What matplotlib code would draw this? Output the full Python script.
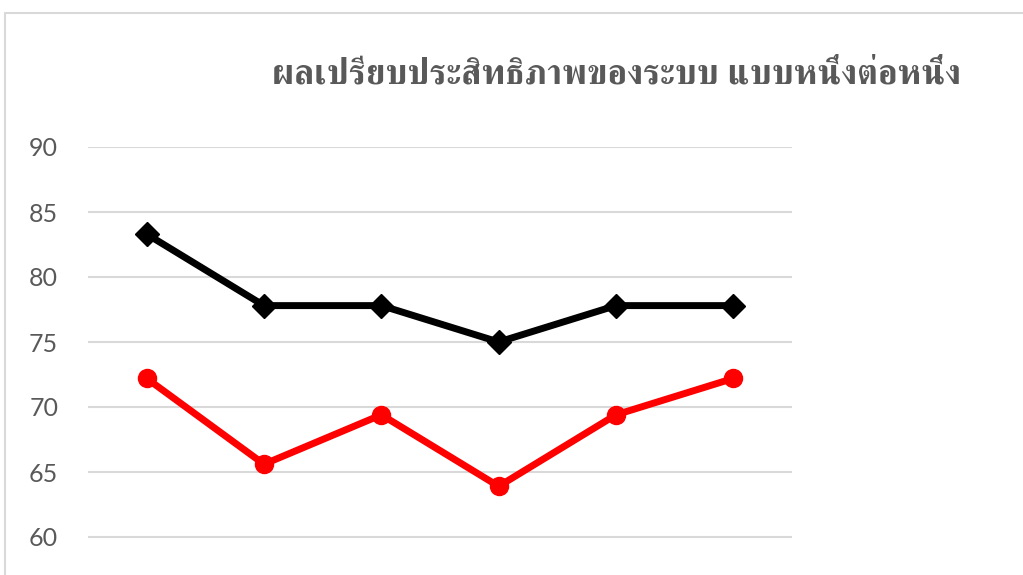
import matplotlib
matplotlib.use('Agg')
import numpy as np
from matplotlib import pyplot as plt
from matplotlib import font_manager
from matplotlib.ft2font import FT2Font
from matplotlib.patches import Rectangle

# chart data
title = 'ผลเปรียบประสิทธิภาพของระบบ แบบหนึ่งต่อหนึ่ง'
categories = ['1', '2', '3', '4', '5', '6']
series_black = [83.3, 77.8, 77.8, 75.0, 77.8, 77.8]
series_red = [72.2, 65.6, 69.4, 63.9, 69.4, 72.2]
y_ticks = [60, 65, 70, 75, 80, 85, 90]


def find_thai_font():
    # pick any installed font that carries Thai glyphs
    names = []
    for f in font_manager.fontManager.ttflist:
        try:
            cmap = FT2Font(f.fname).get_charmap()
        except Exception:
            continue
        if 0x0E1C in cmap and 0x0E34 in cmap:
            names.append(f.name)
    return names


thai_fonts = find_thai_font()
# prefer a serif looking one if there is any
serif = [n for n in thai_fonts if 'Serif' in n or 'Looped' in n]
thai_family = (serif or thai_fonts)[:1]

fig = plt.figure(figsize=(10.23, 5.75), dpi=100)
W, H = 1023.0, 575.0

# chart frame, cut off at right and bottom
frame = Rectangle((5 / W, -0.1), 1.2, 1 - 13 / H + 0.1, transform=fig.transFigure,
                  facecolor='none', edgecolor='#d9d9d9', linewidth=1.5, zorder=5)
fig.patches.append(frame)

ax = fig.add_axes([88 / W, 1 - 602 / H, (792 - 88) / W, (602 - 147) / H])
ax.patch.set_alpha(0)
x = np.arange(len(categories))
ax.plot(x, series_black, color='black', linewidth=5, marker='D', markersize=12,
        solid_capstyle='round', zorder=3)
ax.plot(x, series_red, color='#ff0000', linewidth=5, marker='o', markersize=13,
        solid_capstyle='round', zorder=3)

ax.set_xlim(-0.5, 5.5)
ax.set_ylim(55, 90)
ax.set_yticks(y_ticks)
ax.set_xticks([])
ax.grid(axis='y', color='#d9d9d9', linewidth=1.5)
ax.set_axisbelow(True)
for s in ax.spines.values():
    s.set_visible(False)
ax.tick_params(axis='y', length=0, pad=21.5, labelsize=18, labelcolor='#595959')
for lbl in ax.get_yticklabels():
    lbl.set_fontfamily(['Lato', 'DejaVu Sans'])

fig.text(616 / W, 1 - 75 / H, title, ha='center', va='center', fontsize=25.5,
         fontweight='bold', color='#595959', family=thai_family + ['DejaVu Sans'])

fig.savefig('out.png', dpi=100)
